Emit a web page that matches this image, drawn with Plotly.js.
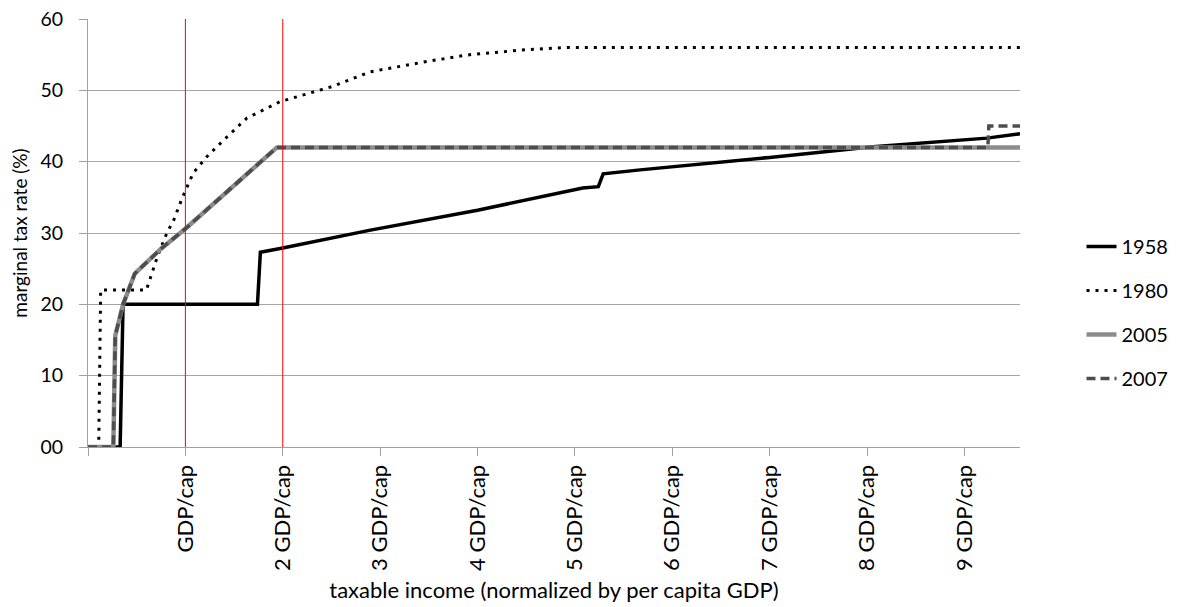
<!DOCTYPE html>
<html>
<head>
<meta charset="utf-8">
<script src="https://cdn.plot.ly/plotly-3.0.1.min.js"></script>
<style>html,body{margin:0;padding:0;background:#fff}#chart{width:1185px;height:607px}</style>
</head>
<body>
<div id="chart"></div>
<script>
// Series: x = taxable income (multiples of per-capita GDP), y = marginal tax rate (%)
const x1958 = [0, 0.33, 0.36, 1.74, 1.77, 2, 2.9, 4, 5.08, 5.24, 5.29, 5.67, 7, 8.06, 9.23, 9.57];
const y1958 = [0, 0, 20, 20, 27.3, 27.9, 30.4, 33.2, 36.3, 36.5, 38.3, 38.85, 40.6, 42.1, 43.3, 43.9];

const x1980 = [0, 0.11, 0.13, 0.6, 0.71, 0.81, 0.88, 0.97, 1.08, 1.22, 1.43, 1.63, 1.97, 2.14, 2.5, 2.9, 3.5, 3.92, 4.5, 4.9, 9.57];
const y1980 = [0, 0, 22, 22, 26.6, 30, 31.8, 35, 38.4, 40.7, 43.5, 46.1, 48.4, 49.1, 50.5, 52.6, 54.1, 55.0, 55.7, 56, 56];

const x2005 = [0, 0.26, 0.28, 0.36, 0.48, 0.75, 1, 1.94, 9.57];
const y2005 = [0, 0, 15.6, 20, 24.3, 27.8, 30.6, 42, 42];

const x2007 = [0, 0.26, 0.28, 0.36, 0.48, 0.75, 1, 1.94, 9.24, 9.25, 9.57];
const y2007 = [0, 0, 15.6, 20, 24.3, 27.8, 30.6, 42, 42, 45, 45];

const xTickVals = [0, 1, 2, 3, 4, 5, 6, 7, 8, 9];
const xTickText = ['', 'GDP/cap', '2 GDP/cap', '3 GDP/cap', '4 GDP/cap', '5 GDP/cap', '6 GDP/cap', '7 GDP/cap', '8 GDP/cap', '9 GDP/cap'];
const yTickVals = [0, 10, 20, 30, 40, 50, 60];
const yTickText = ['00', '10', '20', '30', '40', '50', '60'];
const markerLines = [1, 2];

const font = 'Lato, "Open Sans", sans-serif';

const traces = [
  {x: x1958, y: y1958, name: '1958', legendgroup: 'a', mode: 'lines',
   line: {color: '#000000', width: 3.5}},
  {x: x1980, y: y1980, name: '1980', legendgroup: 'b', mode: 'lines',
   line: {color: '#000000', width: 3, dash: '3px,6px'}},
  {x: x2005, y: y2005, name: '2005', legendgroup: 'c', mode: 'lines',
   line: {color: '#8c8c8c', width: 4.5}},
  {x: x2007, y: y2007, name: '2007', legendgroup: 'd', mode: 'lines',
   line: {color: '#4d4d4d', width: 3.5, dash: '9px,5px'}}
];

const layout = {
  width: 1185, height: 607,
  margin: {l: 88, r: 165, t: 19, b: 160},
  paper_bgcolor: '#ffffff', plot_bgcolor: '#ffffff',
  font: {family: font, color: '#000000', size: 19},
  showlegend: true,
  legend: {x: 1.066, xanchor: 'left', y: 0.314, yanchor: 'middle',
           traceorder: 'grouped', tracegroupgap: 15,
           font: {family: font, size: 20, color: '#000'}, bgcolor: 'rgba(0,0,0,0)'},
  xaxis: {
    range: [0, 9.57], tickvals: xTickVals, ticktext: xTickText,
    tickangle: -90, ticks: 'outside', ticklen: 8, tickcolor: '#a0a0a0',
    showgrid: false, zeroline: false, showline: true, linecolor: '#a0a0a0', linewidth: 1,
    tickfont: {family: font, size: 22}, fixedrange: true, automargin: false,
    title: {text: 'taxable income (normalized by per capita GDP)', font: {family: font, size: 22}, standoff: 12}
  },
  yaxis: {
    range: [0, 60], tickvals: yTickVals, ticktext: yTickText,
    ticks: 'outside', ticklen: 8, tickcolor: '#a0a0a0', ticklabelstandoff: 12,
    showgrid: true, gridcolor: '#a6a6a6', gridwidth: 1,
    zeroline: false, showline: true, linecolor: '#a0a0a0', linewidth: 1,
    tickfont: {family: font, size: 19.5}, fixedrange: true, automargin: false,
    title: {text: 'marginal tax rate (%)', font: {family: font, size: 19}, standoff: 7}
  },
  shapes: markerLines.map(v => ({type: 'line', xref: 'x', yref: 'paper', x0: v, x1: v, y0: 0, y1: 1,
    line: {color: '#ff0000', width: 1}}))
};

Plotly.newPlot('chart', traces, layout, {displayModeBar: false, staticPlot: true});
</script>
</body>
</html>
